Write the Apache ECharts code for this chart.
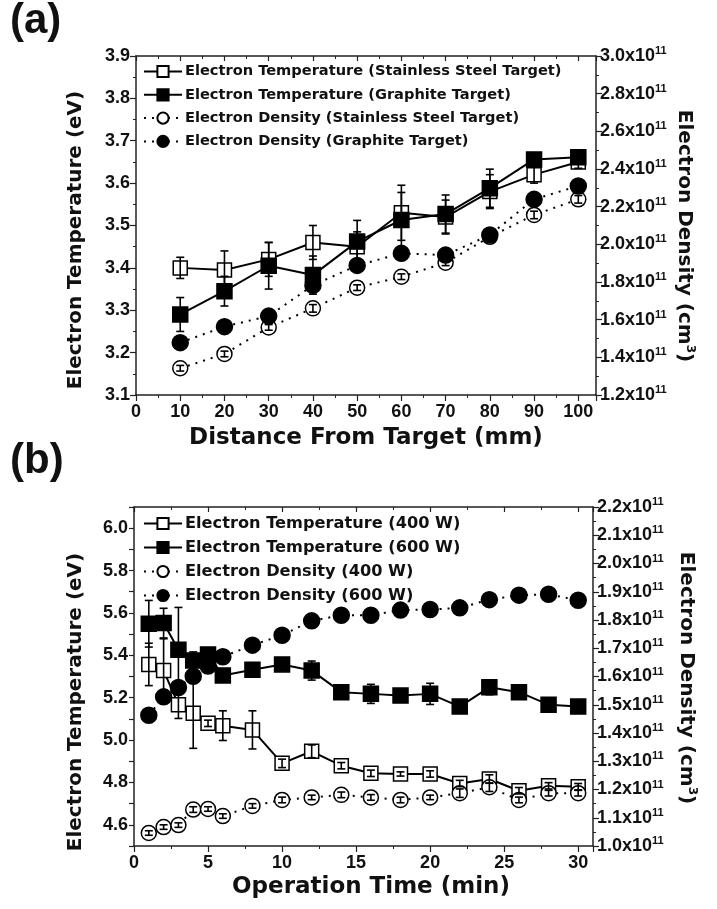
<!DOCTYPE html>
<html>
<head>
<meta charset="utf-8">
<script src="https://cdn.jsdelivr.net/npm/echarts@6/dist/echarts.min.js"></script>
<style>
html,body{margin:0;padding:0;background:#fff;}
#chart{width:717px;height:909px;}
</style>
</head>
<body>
<div id="chart"></div>
<script>
// ---------- Panel (a) data ----------
const distance = [10, 20, 30, 40, 50, 60, 70, 80, 90, 100];
const tempSS = [3.40, 3.395, 3.42, 3.46, 3.45, 3.53, 3.52, 3.58, 3.62, 3.65];
const tempSSErr = [0.025, 0.045, 0.04, 0.04, 0.035, 0.065, 0.04, 0.04, 0.02, 0.015];
const tempGr = [3.29, 3.345, 3.405, 3.383, 3.462, 3.513, 3.527, 3.588, 3.656, 3.661];
const tempGrErr = [0.04, 0.035, 0.055, 0.045, 0.05, 0.065, 0.045, 0.045, 0.01, 0.01];
// densities in units of 1e11 cm^-3
const densSS = [1.342, 1.418, 1.559, 1.660, 1.770, 1.828, 1.902, 2.04, 2.156, 2.239];
const densSSErr = [0.015, 0.015, 0.015, 0.02, 0.015, 0.015, 0.015, 0.02, 0.02, 0.02];
const densGr = [1.478, 1.563, 1.619, 1.782, 1.888, 1.952, 1.943, 2.05, 2.239, 2.31];
const densGrErr = [0.012, 0.012, 0.012, 0.015, 0.012, 0.012, 0.012, 0.015, 0.012, 0.012];
const namesA = [
  'Electron Temperature (Stainless Steel Target)',
  'Electron Temperature (Graphite Target)',
  'Electron Density (Stainless Steel Target)',
  'Electron Density (Graphite Target)'
];

// ---------- Panel (b) data ----------
const opTime = [1, 2, 3, 4, 5, 6, 8, 10, 12, 14, 16, 18, 20, 22, 24, 26, 28, 30];
const temp400 = [5.357, 5.328, 5.167, 5.126, 5.079, 5.068, 5.048, 4.89, 4.947, 4.879, 4.843, 4.84, 4.84, 4.795, 4.816, 4.761, 4.784, 4.78];
const temp400Err = [0.1, 0.15, 0.065, 0.165, 0.015, 0.07, 0.09, 0.02, 0.03, 0.015, 0.015, 0.01, 0.015, 0.015, 0.02, 0.015, 0.015, 0.015];
const temp600 = [5.549, 5.552, 5.426, 5.376, 5.404, 5.305, 5.332, 5.357, 5.328, 5.226, 5.218, 5.21, 5.218, 5.158, 5.249, 5.226, 5.167, 5.158];
const temp600Err = [0.11, 0.07, 0.2, 0.04, 0.02, 0.02, 0.02, 0.02, 0.045, 0.02, 0.045, 0.02, 0.05, 0.02, 0.035, 0.02, 0.02, 0.02];
const dens400 = [1.046, 1.067, 1.074, 1.129, 1.131, 1.106, 1.142, 1.163, 1.172, 1.181, 1.172, 1.163, 1.172, 1.187, 1.208, 1.163, 1.187, 1.187];
const dens400Err = [0.008, 0.008, 0.008, 0.01, 0.008, 0.008, 0.008, 0.01, 0.008, 0.01, 0.01, 0.01, 0.008, 0.015, 0.015, 0.01, 0.01, 0.01];
const dens600 = [1.463, 1.528, 1.561, 1.601, 1.637, 1.670, 1.711, 1.746, 1.797, 1.817, 1.817, 1.835, 1.837, 1.843, 1.872, 1.888, 1.891, 1.870];
const dens600Err = [0.008, 0.008, 0.008, 0.008, 0.008, 0.008, 0.008, 0.008, 0.01, 0.01, 0.02, 0.008, 0.008, 0.01, 0.012, 0.008, 0.008, 0.008];
const namesB = [
  'Electron Temperature (400 W)',
  'Electron Temperature (600 W)',
  'Electron Density (400 W)',
  'Electron Density (600 W)'
];

// ---------- Titles ----------
const titleTemp = 'Electron Temperature (eV)';
const titleDens = 'Electron Density (cm{s|3})';
const titleXa = 'Distance From Target (mm)';
const titleXb = 'Operation Time (min)';

const FONT = 'Liberation Sans, Arial, sans-serif';
const WIDE = 'DejaVu Sans, Liberation Sans, sans-serif';
const AX = '#222';

function pairs(xs, ys) { return xs.map((x, i) => [x, ys[i]]); }
function triples(xs, ys, es) { return xs.map((x, i) => [x, ys[i], es[i]]); }

function errSeries(xs, ys, es, xi, yi) {
  return {
    type: 'custom', xAxisIndex: xi, yAxisIndex: yi, z: 5, silent: true,
    data: triples(xs, ys, es),
    renderItem: function (params, api) {
      const x = api.value(0), y = api.value(1), e = api.value(2);
      const hi = api.coord([x, y + e]);
      const lo = api.coord([x, y - e]);
      const w = 4;
      const st = { stroke: '#000', lineWidth: 1.6 };
      return { type: 'group', children: [
        { type: 'line', shape: { x1: hi[0], y1: hi[1], x2: lo[0], y2: lo[1] }, style: st },
        { type: 'line', shape: { x1: hi[0] - w, y1: hi[1], x2: hi[0] + w, y2: hi[1] }, style: st },
        { type: 'line', shape: { x1: lo[0] - w, y1: lo[1], x2: lo[0] + w, y2: lo[1] }, style: st }
      ]};
    }
  };
}

function lineSeries(name, xs, ys, xi, yi, symbol, filled, dotted, size) {
  return {
    name: name, type: 'line', xAxisIndex: xi, yAxisIndex: yi,
    data: pairs(xs, ys), symbol: symbol, symbolSize: size, showAllSymbols: true,
    z: 4,
    lineStyle: { color: '#000', width: 2, type: dotted ? [2, 6] : 'solid' },
    itemStyle: { color: filled ? '#000' : '#fff', borderColor: '#000', borderWidth: 1.5 },
    emphasis: { disabled: true }
  };
}

const tickLabel = { color: '#111', fontFamily: FONT, fontWeight: 'bold', fontSize: 18 };
const supRich = {
  b: { fontFamily: FONT, fontWeight: 'bold', fontSize: 18, color: '#111' },
  s: { fontFamily: FONT, fontWeight: 'bold', fontSize: 11, color: '#111', padding: [0, 0, 10, 0] }
};
const titleFont = 'bold 20px ' + WIDE;
const titleRich = {
  s: { font: 'bold 12px ' + WIDE, fill: '#111', padding: [0, 0, 12, 0] }
};

function xAxisBottom(gi, min, max, interval) {
  return {
    type: 'value', gridIndex: gi, position: 'bottom', min: min, max: max, interval: interval,
    axisLine: { show: true, onZero: false, lineStyle: { color: AX, width: 1.5 } },
    axisTick: { show: true, length: 6, lineStyle: { color: AX, width: 1.2 } },
    minorTick: { show: true, splitNumber: 2, length: 3, lineStyle: { color: AX, width: 1 } },
    axisLabel: Object.assign({ margin: 8, showMaxLabel: false }, tickLabel),
    splitLine: { show: false }
  };
}
function xAxisTop(gi, min, max, interval) {
  return {
    type: 'value', gridIndex: gi, position: 'top', min: min, max: max, interval: interval,
    axisLine: { show: true, onZero: false, lineStyle: { color: AX, width: 1.5 } },
    axisTick: { show: true, inside: true, length: 5, lineStyle: { color: AX, width: 1.2 } },
    minorTick: { show: true, splitNumber: 2, length: 3, lineStyle: { color: AX, width: 1 } },
    axisLabel: { show: false }, splitLine: { show: false }
  };
}
function rightAxis(gi, min, max, interval) {
  return {
    type: 'value', gridIndex: gi, position: 'right', min: min, max: max, interval: interval,
    axisLine: { show: true, onZero: false, lineStyle: { color: AX, width: 1.5 } },
    axisTick: { show: true, length: 6, lineStyle: { color: AX, width: 1.2 } },
    minorTick: { show: true, splitNumber: 2, length: 3, lineStyle: { color: AX, width: 1 } },
    axisLabel: { margin: 4, formatter: v => '{b|' + v.toFixed(1) + 'x10}{s|11}', rich: supRich },
    splitLine: { show: false }
  };
}

function vTitle(text, x, y, rot) {
  return { type: 'text', x: x, y: y, rotation: rot, silent: true,
    style: { text: text, font: titleFont, fill: '#111', align: 'center', verticalAlign: 'middle', rich: titleRich } };
}
function hTitle(text, x, y) {
  return { type: 'text', x: x, y: y, silent: true,
    style: { text: text, font: 'bold 23px ' + WIDE, fill: '#111', align: 'center', verticalAlign: 'middle' } };
}

const option = {
  backgroundColor: '#fff',
  animation: false,
  textStyle: { fontFamily: FONT },
  graphic: [
    { type: 'text', left: 10, top: 0, style: { text: '(a)', font: 'bold 42px ' + FONT, fill: '#111' } },
    { type: 'text', left: 10, top: 440, style: { text: '(b)', font: 'bold 42px ' + FONT, fill: '#111' } },
    vTitle(titleTemp, 76, 240, Math.PI / 2),
    vTitle(titleDens, 684, 236, -Math.PI / 2),
    hTitle(titleXa, 366, 438),
    vTitle(titleTemp, 76, 702, Math.PI / 2),
    vTitle(titleDens, 686, 678, -Math.PI / 2),
    hTitle(titleXb, 371, 887)
  ],
  grid: [
    { left: 136, right: 121, top: 56, height: 339 },
    { left: 134, right: 124, top: 507, height: 339 }
  ],
  legend: [
    {
      data: namesA, orient: 'vertical', left: 138, top: 59, itemGap: 8.3,
      itemWidth: 38, itemHeight: 14, selectedMode: false,
      textStyle: { fontFamily: WIDE, fontWeight: 'bold', fontSize: 14.6, lineHeight: 15, color: '#111', padding: [0, 0, 0, -2] }
    },
    {
      data: namesB, orient: 'vertical', left: 138, top: 510, itemGap: 7,
      itemWidth: 38, itemHeight: 14, selectedMode: false,
      textStyle: { fontFamily: WIDE, fontWeight: 'bold', fontSize: 16.2, lineHeight: 17, color: '#111', padding: [0, 0, 0, -2] }
    }
  ],
  xAxis: [
    xAxisBottom(0, 0, 104, 10),
    xAxisTop(0, 0, 104, 10),
    xAxisBottom(1, 0, 31, 5),
    xAxisTop(1, 0, 31, 5)
  ],
  yAxis: [
    {
      type: 'value', gridIndex: 0, position: 'left', min: 3.1, max: 3.9, interval: 0.1,
      axisLine: { show: true, onZero: false, lineStyle: { color: AX, width: 1.5 } },
      axisTick: { show: true, length: 6, lineStyle: { color: AX, width: 1.2 } },
      minorTick: { show: true, splitNumber: 2, length: 3, lineStyle: { color: AX, width: 1 } },
      axisLabel: Object.assign({ margin: 6, formatter: v => v.toFixed(1) }, tickLabel),
      splitLine: { show: false }
    },
    rightAxis(0, 1.2, 3.0, 0.2),
    {
      type: 'value', gridIndex: 1, position: 'left', min: 4.5, max: 6.1, interval: 0.1,
      axisLine: { show: true, onZero: false, lineStyle: { color: AX, width: 1.5 } },
      axisTick: { show: true, length: 5, lineStyle: { color: AX, width: 1.2 } },
      axisLabel: Object.assign({ margin: 6, formatter: v => (Math.round(v * 10) % 2 === 0 ? v.toFixed(1) : '') }, tickLabel),
      splitLine: { show: false }
    },
    rightAxis(1, 1.0, 2.2, 0.1)
  ],
  series: [
    lineSeries(namesA[0], distance, tempSS, 0, 0, 'rect', false, false, 14),
    lineSeries(namesA[1], distance, tempGr, 0, 0, 'rect', true, false, 15),
    lineSeries(namesA[2], distance, densSS, 0, 1, 'circle', false, true, 15),
    lineSeries(namesA[3], distance, densGr, 0, 1, 'circle', true, true, 16),
    errSeries(distance, tempSS, tempSSErr, 0, 0),
    errSeries(distance, tempGr, tempGrErr, 0, 0),
    errSeries(distance, densSS, densSSErr, 0, 1),
    errSeries(distance, densGr, densGrErr, 0, 1),

    lineSeries(namesB[0], opTime, temp400, 2, 2, 'rect', false, false, 14),
    lineSeries(namesB[1], opTime, temp600, 2, 2, 'rect', true, false, 15),
    lineSeries(namesB[2], opTime, dens400, 2, 3, 'circle', false, true, 15),
    lineSeries(namesB[3], opTime, dens600, 2, 3, 'circle', true, true, 16),
    errSeries(opTime, temp400, temp400Err, 2, 2),
    errSeries(opTime, temp600, temp600Err, 2, 2),
    errSeries(opTime, dens400, dens400Err, 2, 3),
    errSeries(opTime, dens600, dens600Err, 2, 3)
  ]
};

const chart = echarts.init(document.getElementById('chart'), null, { renderer: 'canvas' });
chart.setOption(option);
</script>
</body>
</html>
